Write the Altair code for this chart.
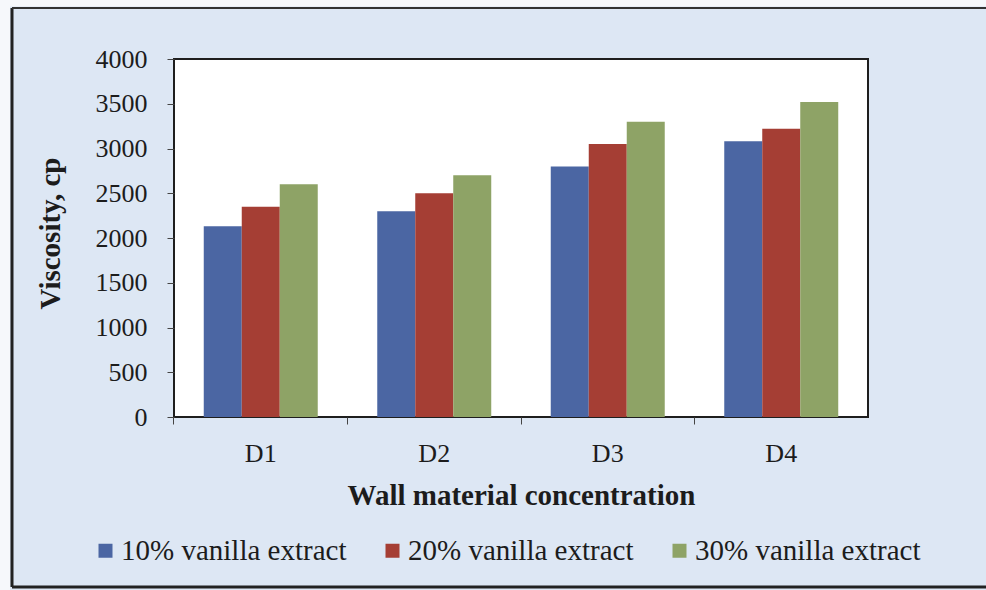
import altair as alt
import pandas as pd

# Viscosity (cp) by wall material concentration and vanilla extract level
categories = ["D1", "D2", "D3", "D4"]
series = ["10% vanilla extract", "20% vanilla extract", "30% vanilla extract"]
visc_10 = [2130, 2300, 2800, 3080]
visc_20 = [2350, 2500, 3050, 3220]
visc_30 = [2600, 2700, 3300, 3520]
y_ticks = [0, 500, 1000, 1500, 2000, 2500, 3000, 3500, 4000]

colors = ["#4b66a3", "#a53e34", "#8ea366"]

rows = []
for s, vals in zip(series, [visc_10, visc_20, visc_30]):
    for c, v in zip(categories, vals):
        rows.append({"conc": c, "series": s, "visc": v})
df = pd.DataFrame(rows)

FONT = "Liberation Serif"
INK = "#1c1c1c"
W, H = 694, 358
PAD_INNER = 0.343
# shift ticks from the bar group's edge to the category boundary
TICK_BAND = -(PAD_INNER / 2) / (1 - PAD_INNER)

bars = alt.Chart(df).mark_bar().encode(
    x=alt.X(
        "conc:N",
        sort=categories,
        scale=alt.Scale(paddingInner=PAD_INNER, paddingOuter=PAD_INNER / 2),
        axis=alt.Axis(
            title="Wall material concentration",
            labelAngle=0,
            labelFont=FONT,
            labelFontSize=26,
            labelColor=INK,
            labelBaseline="alphabetic",
            labelPadding=37,
            tickSize=7,
            tickColor="#444",
            bandPosition=TICK_BAND,
            domain=False,
            titleFont=FONT,
            titleFontSize=29,
            titleFontWeight="bold",
            titleColor=INK,
            titleBaseline="alphabetic",
            titleY=87,
        ),
    ),
    xOffset=alt.XOffset("series:N", sort=series, scale=alt.Scale(paddingInner=0, paddingOuter=0)),
    y=alt.Y(
        "visc:Q",
        scale=alt.Scale(domain=[0, 4000], nice=False),
        axis=alt.Axis(
            title="Viscosity, cp",
            values=y_ticks,
            format="d",
            grid=False,
            domain=False,
            labelFont=FONT,
            labelFontSize=26,
            labelColor=INK,
            labelPadding=20,
            tickSize=7,
            tickColor="#444",
            titleFont=FONT,
            titleFontSize=29,
            titleFontWeight="bold",
            titleColor=INK,
            titleAngle=-90,
            titleAlign="center",
            titleBaseline="middle",
            titleX=-124,
            titleY=174,
        ),
    ),
    color=alt.Color(
        "series:N",
        sort=series,
        scale=alt.Scale(domain=series, range=colors),
        legend=alt.Legend(
            title=None,
            orient="none",
            legendX=-83,
            legendY=477,
            direction="horizontal",
            columns=3,
            padding=0,
            symbolType="square",
            symbolSize=196,
            symbolStrokeWidth=0,
            symbolOpacity=1,
            labelFont=FONT,
            labelFontSize=29,
            labelColor=INK,
            labelOffset=1,
            columnPadding=31,
            labelLimit=400,
        ),
    ),
)

# outer frame lines around the figure panel
one = pd.DataFrame({"k": [0]})
frame_left = alt.Chart(one).mark_rule(color="#222", strokeWidth=3).encode(
    x=alt.value(12 - 174), y=alt.value(8 - 59), y2=alt.value(587 - 59)
)
frame_top = alt.Chart(one).mark_rule(color="#333", strokeWidth=2).encode(
    x=alt.value(12 - 174), x2=alt.value(986 - 174), y=alt.value(8 - 59)
)
frame_bottom = alt.Chart(one).mark_rule(color="#222", strokeWidth=3).encode(
    x=alt.value(12 - 174), x2=alt.value(986 - 174), y=alt.value(587 - 59)
)
margin_left = alt.Chart(one).mark_rule(color="#f6f8fb", strokeWidth=10).encode(
    x=alt.value(5 - 174), y=alt.value(-59), y2=alt.value(590 - 59)
)
margin_top = alt.Chart(one).mark_rule(color="#f6f8fb", strokeWidth=7).encode(
    x=alt.value(-174), x2=alt.value(986 - 174), y=alt.value(3 - 59)
)

chart = (
    alt.layer(margin_left, margin_top, frame_left, frame_top, frame_bottom, bars)
    .properties(
        width=W,
        height=H,
        autosize=alt.AutoSizeParams(type="none"),
        padding={"left": 174, "top": 59, "right": 118, "bottom": 173},
        background="#dde7f4",
    )
    .configure(font=FONT)
    .configure_view(fill="white", stroke="#1e1e1e", strokeWidth=2)
    .configure_legend(labelFont=FONT, labelFontSize=29, labelColor=INK)
)

chart.save("out.html", embed_options={"renderer": "svg", "actions": False})
